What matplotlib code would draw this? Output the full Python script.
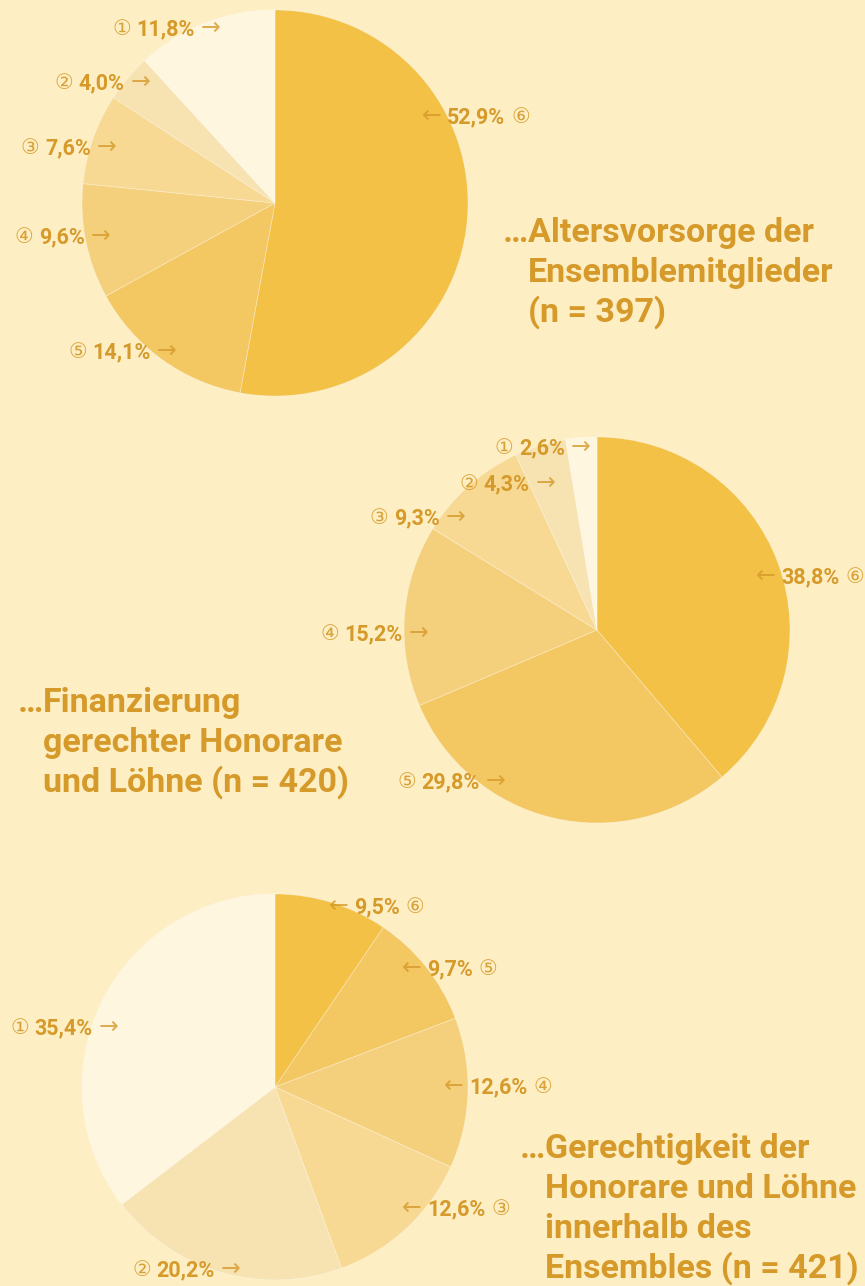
import matplotlib
matplotlib.use('Agg')
import matplotlib.pyplot as plt
from matplotlib.offsetbox import AnnotationBbox, HPacker, TextArea

W, H = 865, 1286
BG = '#FDEEC4'
TXT = '#D69A2A'

# categories 6..1, in drawing order (clockwise from 12 o'clock)
marks = ['⑥', '⑤', '④', '③', '②', '①']
slice_colors = ['#F2C145', '#F3C761', '#F4D07C', '#F7D993', '#F7E3B1', '#FEF6DF']

vals_alters = [52.9, 14.1, 9.6, 7.6, 4.0, 11.8]
vals_finanz = [38.8, 29.8, 15.2, 9.3, 4.3, 2.6]
vals_gerecht = [9.5, 9.7, 12.6, 12.6, 20.2, 35.4]

title_alters = ['Altersvorsorge der', 'Ensemblemitglieder', '(n = 397)']
title_finanz = ['Finanzierung', 'gerechter Honorare', 'und Löhne (n = 420)']
title_gerecht = ['Gerechtigkeit der', 'Honorare und Löhne', 'innerhalb des', 'Ensembles (n = 421)']


def fmt(v):
    return f'{v:.1f}'.replace('.', ',') + '%'


def fy(y):
    return H - y


fig = plt.figure(figsize=(W / 100, H / 100), dpi=100)
fig.patch.set_facecolor(BG)
ax = fig.add_axes([0, 0, 1, 1])
ax.set_facecolor(BG)

FAM = ['Roboto', 'DejaVu Sans']


def label(x, y, mark, value, side):
    # side 'L': "① 11,8% →" ending at x ; side 'R': "← 52,9% ⑥" starting at x
    mk = TextArea(mark, textprops=dict(color=TXT, fontsize=15, family=['DejaVu Sans'], alpha=0.9))
    pc = TextArea(fmt(value), textprops=dict(color=TXT, fontsize=15.5, fontweight='bold', family=FAM))
    arrow = '→' if side == 'L' else '←'
    ar = TextArea(arrow, textprops=dict(color=TXT, fontsize=17, family=['DejaVu Sans'], alpha=0.8))
    if side == 'L':
        kids = [mk, pc, ar]
        align = (1, 0.5)
    else:
        kids = [ar, pc, mk]
        align = (0, 0.5)
    box = HPacker(children=kids, sep=4, pad=0, align='baseline')
    ab = AnnotationBbox(box, (x, fy(y)), xycoords='data', box_alignment=align,
                        frameon=False, pad=0, annotation_clip=False)
    ax.add_artist(ab)


def pie(values, cx, cy, labpos):
    ax.pie(values, colors=slice_colors, startangle=90, counterclock=False,
           center=(cx, fy(cy)), radius=193,
           wedgeprops=dict(linewidth=0.6, edgecolor=(1, 1, 1, 0.35)))
    for (x, y, side), m, v in zip(labpos, marks, values):
        label(x, y, m, v, side)


def title(lines, x, y0):
    ax.text(x, fy(y0), '…', ha='right', va='baseline', color=TXT,
            fontsize=24.5, fontweight='bold', family=FAM)
    for i, line in enumerate(lines):
        ax.text(x, fy(y0 + 40 * i), line, ha='left', va='baseline', color=TXT,
                fontsize=24.5, fontweight='bold', family=FAM)


pie(vals_alters, 275, 203, [(422, 116, 'R'), (176, 351, 'L'), (110, 236, 'L'),
                            (116, 147, 'L'), (150, 82, 'L'), (220, 28, 'L')])
pie(vals_finanz, 597, 630, [(756, 576, 'R'), (505, 781, 'L'), (428, 633, 'L'),
                            (465, 517, 'L'), (555, 483, 'L'), (590, 447, 'L')])
pie(vals_gerecht, 275, 1087, [(329, 906, 'R'), (402, 968, 'R'), (444, 1086, 'R'),
                              (402, 1208, 'R'), (240, 1269, 'L'), (118, 1027, 'L')])

title(title_alters, 528, 242)
title(title_finanz, 43, 712)
title(title_gerecht, 545, 1158)

ax.set_xlim(0, W)
ax.set_ylim(0, H)
ax.set_aspect('auto')
ax.axis('off')

fig.savefig('out.png', dpi=100, facecolor=BG)
